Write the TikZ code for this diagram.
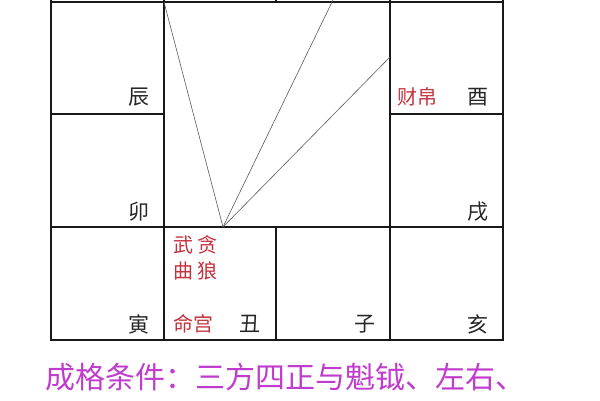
\documentclass[tikz,border=0pt]{standalone}
\usepackage{fontspec}
\newfontfamily\cjk{Noto Sans CJK SC}
\definecolor{palacered}{RGB}{196,48,60}
\definecolor{rulemagenta}{RGB}{192,60,205}
\tikzset{
  gridline/.style={line width=1.8pt, black!90},
  ray/.style={line width=0.6pt, black!65},
  branch/.style={font=\cjk\fontsize{21}{21}\selectfont, inner sep=0pt, text=black!85},
  star/.style={font=\cjk\fontsize{20}{20}\selectfont, inner sep=0pt, text=palacered},
}

\begin{document}
\begin{tikzpicture}[x=1pt,y=-1pt]
\useasboundingbox (0,0) rectangle (600,400);
% palace grid (top row runs off the page)
\draw[gridline] (51,-10) -- (51,340) -- (503,340) -- (503,-10);
\draw[gridline] (51,2) -- (503,2);
\draw[gridline] (164,-10) -- (164,340);
\draw[gridline] (390,-10) -- (390,340);
\draw[gridline] (276,-10) -- (276,2);
\draw[gridline] (276,227) -- (276,340);
\draw[gridline] (51,114) -- (164,114);
\draw[gridline] (390,114) -- (503,114);
\draw[gridline] (51,227) -- (503,227);
% sanfang sizheng
\coordinate (ming) at (223,227);
\coordinate (si) at (164,2);
\coordinate (wei) at (335.4,-5);
\coordinate (you) at (390,57);
\draw[ray] (ming) -- (si);
\draw[ray] (ming) -- (wei);
\draw[ray] (ming) -- (you);
% branches
\node[branch] (chen) at (139,97) {辰};
\node[branch] (mao) at (139,212) {卯};
\node[branch] (yin) at (139,324) {寅};
\node[branch] (chou) at (250,324) {丑};
\node[branch] (zi) at (365,324) {子};
\node[branch] (hai) at (478,324) {亥};
\node[branch] (xu) at (478,212) {戌};
\node[branch] (youb) at (478,97) {酉};
% stars and palaces
\node[star] (caibo) at (417,97) {财帛};
\node[star] (wu1) at (183,245) {武};
\node[star] (tan) at (207,245) {贪};
\node[star] (qu) at (183,271) {曲};
\node[star] (lang) at (207,271) {狼};
\node[star] (minggong) at (193,324) {命宫};
% condition
\node[font=\cjk\fontsize{30}{30}\selectfont, text=rulemagenta, anchor=west, inner sep=0pt] (cond) at (45,377) {成格条件：三方四正与魁钺、左右、};
\end{tikzpicture}
\end{document}
